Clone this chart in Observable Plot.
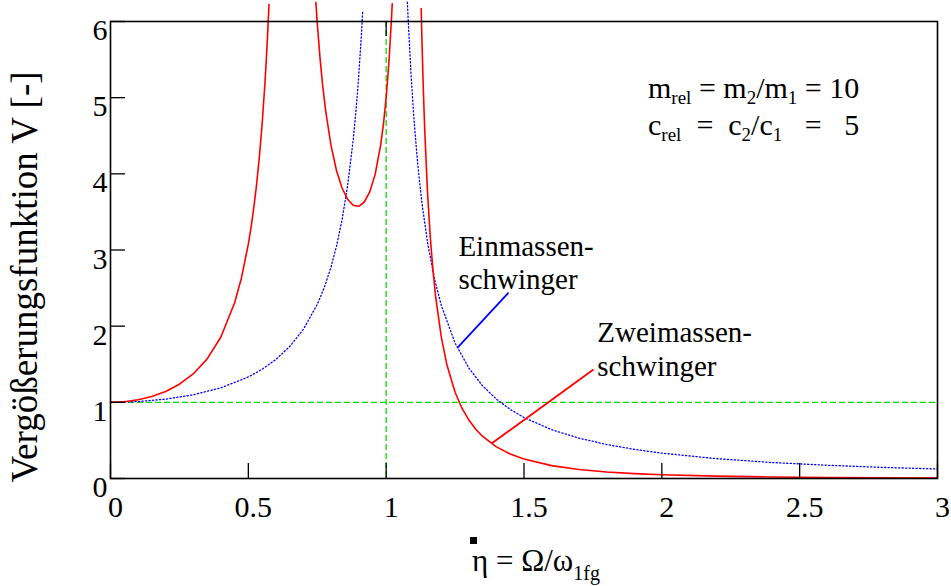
<!DOCTYPE html>
<html><head><meta charset="utf-8">
<script src="https://cdn.jsdelivr.net/npm/d3@7"></script>
<script src="https://cdn.jsdelivr.net/npm/@observablehq/plot@0.6"></script>
<style>body{margin:0;background:#fff}#chart{width:951px;height:586px}</style>
</head><body><div id="chart"></div>
<script>
// Zweimassenschwinger (red), three branches
const redLeftEta = [0,0.05,0.1,0.15,0.2,0.25,0.3,0.35,0.4,0.45,0.475,0.5,0.51,0.52,0.53,0.54,0.55,0.56,0.565,0.57,0.575];
const redLeftV   = [1,1.008,1.033,1.076,1.143,1.238,1.373,1.567,1.855,2.304,2.633,3.077,3.301,3.559,3.862,4.221,4.651,5.177,5.486,5.833,6.226];
const redMidEta  = [0.745,0.75,0.76,0.77,0.78,0.8,0.82,0.84,0.86,0.88,0.9,0.92,0.94,0.96,0.98,0.99,1.0,1.01,1.02,1.022];
const redMidV    = [6.251,5.981,5.523,5.149,4.841,4.371,4.041,3.814,3.667,3.588,3.574,3.627,3.759,3.993,4.376,4.648,5.0,5.461,6.082,6.232];
const redRightEta= [1.127,1.13,1.135,1.14,1.15,1.16,1.17,1.18,1.2,1.22,1.25,1.275,1.3,1.325,1.35,1.4,1.45,1.5,1.6,1.7,1.8,1.9,2.0,2.2,2.4,2.6,2.8,3.0];
const redRightV  = [6.171,5.719,5.083,4.562,3.759,3.171,2.723,2.370,1.855,1.498,1.133,0.923,0.767,0.647,0.552,0.415,0.321,0.255,0.169,0.118,0.086,0.0645,0.0495,0.0309,0.0204,0.0141,0.0101,0.0075];
// Einmassenschwinger (blue), two branches
const blueLeftEta = [0,0.1,0.2,0.3,0.4,0.5,0.55,0.6,0.65,0.7,0.75,0.77,0.78,0.8,0.82,0.84,0.86,0.88,0.89,0.895,0.9,0.91,0.915];
const blueLeftV   = [1,1.010,1.042,1.099,1.190,1.333,1.434,1.563,1.732,1.961,2.286,2.456,2.554,2.778,3.053,3.397,3.840,4.433,4.810,5.026,5.263,5.817,6.144];
const blueRightEta= [1.077,1.08,1.09,1.1,1.11,1.12,1.13,1.15,1.175,1.2,1.25,1.3,1.35,1.4,1.45,1.5,1.6,1.7,1.8,1.9,2.0,2.2,2.4,2.6,2.8,3.0];
const blueRightV  = [6.253,6.010,5.316,4.762,4.309,3.931,3.611,3.101,2.627,2.273,1.778,1.449,1.216,1.042,0.907,0.800,0.641,0.529,0.446,0.383,0.333,0.260,0.210,0.174,0.146,0.125];

const xTicks = [0,0.5,1,1.5,2,2.5,3];
const yTicks = [0,1,2,3,4,5,6];
const refLineX = [1];
const refLineY = [1];

const labelTexts = ["Einmassen-\nschwinger", "Zweimassen-\nschwinger"];
const labelX = [1.262, 1.766];
const labelY = [3.236, 2.094];
const leaderX1 = [1.259, 1.382];
const leaderY1 = [1.719, 0.459];
const leaderX2 = [1.444, 1.752];
const leaderY2 = [2.441, 1.430];
const leaderColor = ["#0000ff", "#ff0000"];
const yLabel = "Vergößerungsfunktion V [-]";
const paramLine1 = [["m",0],["rel",1],[" = m",0],["2",1],["/m",0],["1",1],[" = 10",0]];
const paramLine2 = [["c",0],["rel",1],["  =  c",0],["2",1],["/c",0],["1",1],["   =   5",0]];
const xLabelMain = "η = Ω/ω";
const xLabelSub = "1fg";

const branch = (name, etas, vs) => etas.map((e, i) => ({branch: name, eta: e, v: vs[i]}));
const red = [...branch("a", redLeftEta, redLeftV), ...branch("b", redMidEta, redMidV), ...branch("c", redRightEta, redRightV)];
const blue = [...branch("a", blueLeftEta, blueLeftV), ...branch("b", blueRightEta, blueRightV)];
const labels = labelTexts.map((t, i) => ({t, x: labelX[i], y: labelY[i]}));
const leaders = leaderX1.map((d, i) => ({x1: d, y1: leaderY1[i], x2: leaderX2[i], y2: leaderY2[i], c: leaderColor[i]}));

const FONT = "'Liberation Serif', 'Times New Roman', serif";
const green = "#00e000";

const plot = Plot.plot({
  width: 951, height: 586,
  marginLeft: 110, marginRight: 14, marginTop: 21, marginBottom: 108,
  x: {domain: [0, 3]},
  y: {domain: [0, 6]},
  style: {fontFamily: FONT, fontSize: "30px", color: "black", background: "white", overflow: "visible"},
  marks: [
    Plot.ruleY(refLineY, {y: d => d, stroke: green, strokeWidth: 1.3, strokeDasharray: "6,3"}),
    Plot.ruleX(refLineX, {x: d => d, stroke: green, strokeWidth: 1.3, strokeDasharray: "6,3"}),
    Plot.line(blue, {x: "eta", y: "v", z: "branch", stroke: "#0000ff", strokeWidth: 1.3, strokeDasharray: "1.2,2.3", curve: "linear"}),
    Plot.line(red, {x: "eta", y: "v", z: "branch", stroke: "#ff0000", strokeWidth: 1.6, curve: "linear"}),
    Plot.link(leaders, {x1: "x1", y1: "y1", x2: "x2", y2: "y2", stroke: "c", strokeWidth: 1.8}),
    Plot.text(labels, {x: "x", y: "y", text: "t", textAnchor: "start", lineAnchor: "top", lineHeight: 1.14, fontSize: 29, fill: "black"}),
    Plot.frame({stroke: "black", strokeWidth: 1.6}),
    Plot.tickX(xTicks, {x: d => d, insetTop: 442, stroke: "black", strokeWidth: 1.3}),
    Plot.tickY(yTicks, {y: d => d, insetRight: 812, stroke: "black", strokeWidth: 1.3}),
    Plot.tickX(refLineX, {x: d => d, insetBottom: 442, stroke: "black", strokeWidth: 1.3}),
    Plot.axisX(xTicks, {tickSize: 0, tickPadding: 17, dx: 5, fontSize: 30, label: null, tickFormat: d => String(d)}),
    Plot.axisY(yTicks, {tickSize: 0, tickPadding: 3, dy: 9, fontSize: 30, label: null, tickFormat: d => String(d)}),
    Plot.text([yLabel], {frameAnchor: "left", rotate: -90, dx: -85, dy: 27, fontSize: 37, textAnchor: "middle", lineAnchor: "middle", fill: "black"})
  ]
});
document.getElementById("chart").appendChild(plot);

// Text with subscripts (parameters and x-axis label)
const svg = d3.select(plot);
function subText(x, y, parts, size, subSize, shift) {
  const t = svg.append("text").attr("x", x).attr("y", y)
    .attr("font-family", FONT).attr("font-size", size).attr("fill", "black")
    .attr("text-anchor", "start").style("white-space", "pre");
  parts.forEach(([s, sub]) => {
    t.append("tspan").attr("y", y + (sub ? shift : 0)).attr("font-size", sub ? subSize : size).text(s);
  });
  return t;
}
subText(648, 98, paramLine1, 30, 19, 6);
subText(648, 135, paramLine2, 30, 19, 6);
subText(472, 571, [[xLabelMain, 0], [xLabelSub, 1]], 31, 20, 9);
svg.append("rect").attr("x", 470).attr("y", 537).attr("width", 7).attr("height", 7).attr("fill", "black");
</script></body></html>
